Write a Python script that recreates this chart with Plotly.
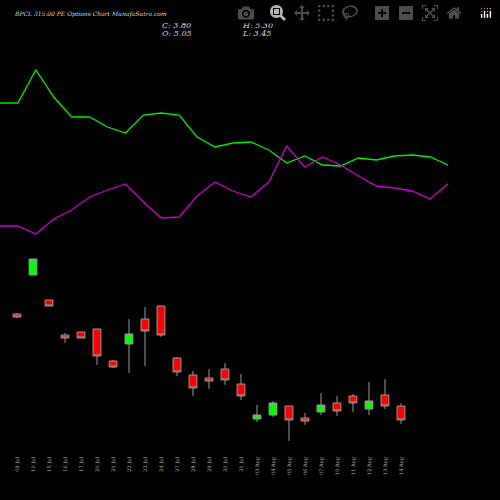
import plotly.graph_objects as go

dates = ["09 Jul","10 Jul","15 Jul","16 Jul","17 Jul","20 Jul","21 Jul","22 Jul","23 Jul","24 Jul",
         "27 Jul","28 Jul","29 Jul","30 Jul","31 Jul","03 Aug","04 Aug","05 Aug","06 Aug","07 Aug",
         "10 Aug","11 Aug","12 Aug","13 Aug","14 Aug"]
opens  = [13.34,16.85,14.60,11.45,11.72,11.99,9.11,10.64,12.89,14.06,9.38,7.85,7.58,8.39,7.04,
          3.89,4.25,5.06,3.98,4.52,5.33,5.96,4.79,6.05,5.05]
highs  = [13.43,18.29,14.60,11.63,11.72,11.99,9.20,12.89,13.97,14.06,9.47,8.21,8.39,8.93,7.94,
          5.15,5.51,5.06,4.43,6.23,5.96,6.14,7.22,7.49,5.30]
lows   = [12.98,16.85,14.06,10.73,11.18,8.75,8.48,8.03,8.66,11.27,7.76,5.96,6.59,6.95,5.60,
          3.62,4.07,1.91,3.35,4.25,4.16,4.52,4.25,4.79,3.45]
closes = [13.07,18.29,14.06,11.18,11.18,9.56,8.57,11.54,11.81,11.45,8.12,6.68,7.31,7.40,5.96,
          4.25,5.33,3.80,3.71,5.15,4.61,5.33,5.51,5.06,3.80]
green_line = [32.33,32.33,35.30,32.87,31.07,31.07,30.17,29.63,31.25,31.43,31.25,29.27,28.37,28.73,
              28.82,28.10,26.93,27.56,26.75,26.66,27.38,27.20,27.56,27.65,27.47,26.75]
magenta_line = [21.26,21.26,20.54,21.89,22.70,23.87,24.50,25.04,23.42,21.98,22.07,23.96,25.22,24.41,
                23.87,25.22,28.46,26.57,27.47,26.75,25.76,24.86,24.68,24.41,23.69,25.07]

idx = list(range(len(dates)))
lidx = list(range(len(green_line)))

fig = go.Figure()
fig.add_trace(go.Scatter(x=lidx, y=green_line, mode="lines", line=dict(color="#00ee00", width=1.3),
                         xaxis="x2", yaxis="y", hoverinfo="skip"))
fig.add_trace(go.Scatter(x=lidx, y=magenta_line, mode="lines", line=dict(color="#cc00cc", width=1.3),
                         xaxis="x2", yaxis="y", hoverinfo="skip"))
fig.add_trace(go.Candlestick(x=idx, open=opens, high=highs, low=lows, close=closes,
                             increasing=dict(fillcolor="#00ff00", line=dict(color="#999999", width=1)),
                             decreasing=dict(fillcolor="#ff0000", line=dict(color="#999999", width=1)),
                             whiskerwidth=0))

PLOT_H = 455
def ann(px, py, text, size):
    return dict(x=px / 500, y=1 - py / PLOT_H, xref="paper", yref="paper", text=text,
                showarrow=False, xanchor="left", yanchor="middle",
                font=dict(color="#dddddd", size=size, family="DejaVu Serif", style="italic"))

fig.update_layout(
    width=500, height=500, paper_bgcolor="black", plot_bgcolor="black",
    margin=dict(l=0, r=0, t=0, b=500 - PLOT_H), showlegend=False,
    xaxis=dict(range=[-1.0625, 30.19], tickmode="array", tickvals=idx, ticktext=dates,
               tickangle=-90, tickfont=dict(color="#bbbbbb", size=5, family="DejaVu Serif"),
               showgrid=False, zeroline=False, rangeslider=dict(visible=False), ticks=""),
    xaxis2=dict(range=[0, 27.9], overlaying="x", visible=False),
    yaxis=dict(range=[0.65, 41.6], visible=False, showgrid=False),
    annotations=[
        ann(12, 14, "BPCL 315.00 PE Options Chart MunafaSutra.com", 6),
        ann(160, 25, "C: 3.80", 8),
        ann(160, 33.5, "O: 5.05", 8),
        ann(240, 25, "H: 5.30", 8),
        ann(240, 33.5, "L: 3.45", 8),
    ],
)
fig.write_html("out.html")
with open("out.html", encoding="utf-8") as f:
    html = f.read()
html = html.replace("<body>", '<body style="margin:0;background:black">', 1)
with open("out.html", "w", encoding="utf-8") as f:
    f.write(html)
